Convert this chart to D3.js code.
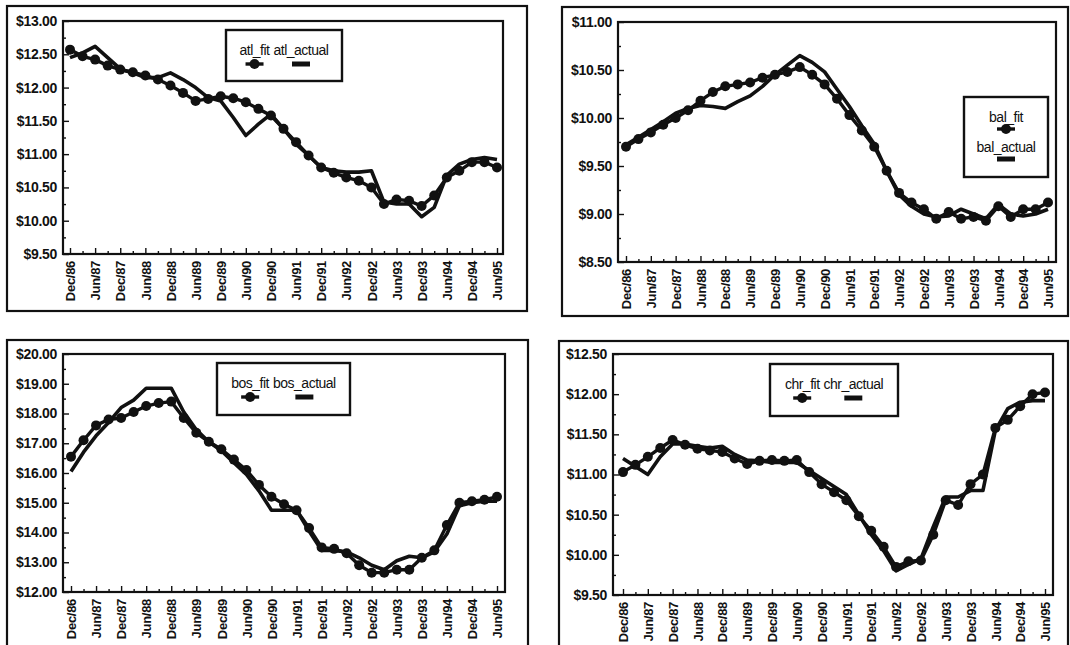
<!DOCTYPE html>
<html>
<head>
<meta charset="utf-8">
<script src="https://cdn.jsdelivr.net/npm/d3@7"></script>
<style>
  html, body { margin: 0; padding: 0; background: #fff; }
  svg { display: block; font-family: "Liberation Sans", Arial, sans-serif; }
</style>
</head>
<body>
<svg id="chart" width="1070" height="645"></svg>
<script>
// half-year tick labels, one every second quarter
const tickLabels = ["Dec/86","Jun/87","Dec/87","Jun/88","Dec/88","Jun/89","Dec/89","Jun/90","Dec/90",
                    "Jun/91","Dec/91","Jun/92","Dec/92","Jun/93","Dec/93","Jun/94","Dec/94","Jun/95"];

// quarterly values, Dec/86 .. Jun/95 (35 quarters)
const atlFit    = [12.57,12.47,12.42,12.33,12.27,12.23,12.18,12.12,12.03,11.92,11.80,11.83,11.87,11.84,11.78,11.68,11.58,
                   11.38,11.18,10.98,10.80,10.72,10.65,10.60,10.50,10.25,10.32,10.30,10.22,10.38,10.65,10.75,10.88,10.88,10.80];
const atlActual = [12.45,12.52,12.62,12.45,12.28,12.22,12.15,12.15,12.22,12.12,12.00,11.85,11.80,11.55,11.28,11.45,11.60,
                   11.38,11.15,10.98,10.80,10.75,10.73,10.73,10.75,10.28,10.25,10.25,10.06,10.20,10.68,10.85,10.92,10.95,10.92];

const balFit    = [9.70,9.78,9.85,9.93,10.00,10.08,10.18,10.27,10.33,10.35,10.37,10.42,10.45,10.48,10.53,10.45,10.35,
                   10.20,10.03,9.87,9.70,9.45,9.22,9.12,9.05,8.95,9.02,8.95,8.97,8.93,9.08,8.97,9.05,9.05,9.12];
const balActual = [9.72,9.80,9.88,9.96,10.05,10.10,10.13,10.12,10.10,10.17,10.23,10.33,10.45,10.55,10.65,10.58,10.48,
                   10.30,10.12,9.92,9.73,9.45,9.20,9.08,9.00,8.97,8.98,9.05,9.00,8.95,9.10,9.00,8.98,9.00,9.05];

const bosFit    = [16.55,17.10,17.60,17.80,17.85,18.05,18.25,18.35,18.40,17.85,17.35,17.05,16.80,16.45,16.10,15.60,15.20,
                   14.95,14.75,14.15,13.50,13.45,13.30,12.90,12.65,12.65,12.75,12.75,13.15,13.40,14.25,15.00,15.05,15.10,15.20];
const bosActual = [16.05,16.70,17.25,17.70,18.20,18.45,18.85,18.85,18.85,18.05,17.45,17.05,16.75,16.35,15.95,15.40,14.75,
                   14.75,14.75,14.05,13.40,13.40,13.35,13.15,12.90,12.75,13.05,13.20,13.15,13.35,13.95,14.90,15.00,15.05,15.05];

const chrFit    = [11.03,11.12,11.22,11.33,11.43,11.37,11.32,11.30,11.28,11.20,11.13,11.17,11.18,11.17,11.18,11.03,10.88,
                   10.78,10.68,10.48,10.30,10.10,9.85,9.92,9.93,10.25,10.68,10.62,10.88,11.00,11.58,11.68,11.85,12.00,12.02];
const chrActual = [11.20,11.10,11.00,11.22,11.38,11.38,11.35,11.33,11.35,11.25,11.18,11.17,11.15,11.15,11.15,11.05,10.95,
                   10.85,10.75,10.50,10.25,10.05,9.80,9.88,9.95,10.35,10.72,10.72,10.80,10.80,11.55,11.82,11.90,11.92,11.92];

const seriesNames = [["atl_fit","atl_actual"],["bal_fit","bal_actual"],["bos_fit","bos_actual"],["chr_fit","chr_actual"]];
const yDomains = [[9.5,13],[8.5,11],[12,20],[9.5,12.5]];
const yStepSize = [0.5,0.5,1,0.5];

// panel geometry
const layout = [
  {outer:[7,6,527,311],   plot:[63,21,503,254],   xr:[70,497],   legend:[226,30,342,81],   vertical:false},
  {outer:[562,7,1068,316],plot:[618,22,1056,262], xr:[626,1048], legend:[964,97,1048,177], vertical:true},
  {outer:[7,340,528,652], plot:[63,354,505,592],  xr:[71,497],   legend:[217,363,350,415], vertical:false},
  {outer:[559,341,1068,652],plot:[613,354,1053,595],xr:[623,1045],legend:[770,364,898,416],vertical:false}
];
const fits = [atlFit, balFit, bosFit, chrFit];
const actuals = [atlActual, balActual, bosActual, chrActual];

const svg = d3.select("#chart");
const ink = "#111";
const fmt = d3.format("$.2f");

layout.forEach((L, p) => {
  const [ox0, oy0, ox1, oy1] = L.outer;
  const [px0, py0, px1, py1] = L.plot;
  const g = svg.append("g");

  g.append("rect")
    .attr("x", ox0).attr("y", oy0).attr("width", ox1 - ox0).attr("height", oy1 - oy0)
    .attr("fill", "none").attr("stroke", ink).attr("stroke-width", 2.2);

  const n = fits[p].length;
  const x = d3.scaleLinear().domain([0, n - 1]).range(L.xr);
  const y = d3.scaleLinear().domain(yDomains[p]).range([py1, py0]);

  const step = yStepSize[p];
  const yMajor = d3.range(yDomains[p][0], yDomains[p][1] + step / 2, step);
  const yMinor = d3.range(yDomains[p][0] + step / 2, yDomains[p][1], step);

  // y axis
  const yAx = g.append("g").attr("transform", `translate(${px0},0)`)
    .call(d3.axisLeft(y).tickValues(yMajor).tickFormat(fmt).tickSizeInner(-6).tickSizeOuter(0).tickPadding(6));
  g.append("g").attr("transform", `translate(${px0},0)`)
    .call(d3.axisLeft(y).tickValues(yMinor).tickFormat("").tickSizeInner(-3).tickSizeOuter(0));

  // x axis
  const majorIdx = d3.range(0, n, 2);
  const minorIdx = d3.range(1, n, 2);
  const xAx = g.append("g").attr("transform", `translate(0,${py1})`)
    .call(d3.axisBottom(x).tickValues(majorIdx).tickFormat((d, i) => tickLabels[i]).tickSizeInner(-6).tickSizeOuter(0));
  g.append("g").attr("transform", `translate(0,${py1})`)
    .call(d3.axisBottom(x).tickValues(minorIdx).tickFormat("").tickSizeInner(-3).tickSizeOuter(0));

  g.selectAll(".domain").remove();
  g.selectAll(".tick line").attr("stroke", ink).attr("stroke-width", 1.4);

  yAx.selectAll("text")
    .attr("fill", ink).style("font-size", "14px").style("font-weight", "bold")
    .style("letter-spacing", "-0.3px");
  xAx.selectAll("text")
    .attr("fill", ink).style("font-size", "13px").style("font-weight", "bold")
    .style("letter-spacing", "-0.3px")
    .attr("transform", "rotate(-90)")
    .attr("x", -7).attr("y", 0).attr("dy", "0.36em")
    .style("text-anchor", "end");

  // plot frame
  g.append("rect")
    .attr("x", px0).attr("y", py0).attr("width", px1 - px0).attr("height", py1 - py0)
    .attr("fill", "none").attr("stroke", ink).attr("stroke-width", 2.2);

  const line = d3.line().x((d, i) => x(i)).y(d => y(d));

  g.append("path").datum(actuals[p])
    .attr("d", line).attr("fill", "none")
    .attr("stroke", ink).attr("stroke-width", 3.6).attr("stroke-linejoin", "round");

  g.append("path").datum(fits[p])
    .attr("d", line).attr("fill", "none")
    .attr("stroke", ink).attr("stroke-width", 3.4).attr("stroke-linejoin", "round");

  g.selectAll(".fitdot").data(fits[p]).enter().append("circle")
    .attr("class", "fitdot")
    .attr("cx", (d, i) => x(i)).attr("cy", d => y(d)).attr("r", 5)
    .attr("fill", ink);

  // legend
  const [lx0, ly0, lx1, ly1] = L.legend;
  const lg = g.append("g");
  lg.append("rect")
    .attr("x", lx0).attr("y", ly0).attr("width", lx1 - lx0).attr("height", ly1 - ly0)
    .attr("fill", "#fff").attr("stroke", ink).attr("stroke-width", 2.4);

  const names = seriesNames[p];
  const addText = (tx, ty, s) => lg.append("text")
    .attr("x", tx).attr("y", ty).attr("dy", "0.35em")
    .attr("text-anchor", "middle").attr("fill", ink)
    .style("font-size", "14px").style("letter-spacing", "-0.5px")
    .text(s);
  const fitMark = (cx, cy) => {
    lg.append("line").attr("x1", cx - 9).attr("x2", cx + 9).attr("y1", cy).attr("y2", cy)
      .attr("stroke", ink).attr("stroke-width", 3.4);
    lg.append("circle").attr("cx", cx).attr("cy", cy).attr("r", 5).attr("fill", ink);
  };
  const actMark = (cx, cy) => {
    lg.append("line").attr("x1", cx - 9).attr("x2", cx + 9).attr("y1", cy).attr("y2", cy)
      .attr("stroke", ink).attr("stroke-width", 5);
  };

  if (L.vertical) {
    const cx = (lx0 + lx1) / 2;
    addText(cx, ly0 + 20, names[0]);
    fitMark(cx, ly0 + 32);
    addText(cx, ly0 + 50, names[1]);
    actMark(cx, ly0 + 62);
  } else {
    const t0 = addText(0, ly0 + 20, names[0]);
    const t1 = addText(0, ly0 + 20, names[1]);
    const w0 = t0.node().getComputedTextLength();
    const w1 = t1.node().getComputedTextLength();
    const gap = 4;
    const start = (lx0 + lx1) / 2 - (w0 + gap + w1) / 2;
    const c0 = start + w0 / 2, c1 = start + w0 + gap + w1 / 2;
    t0.attr("x", c0);
    t1.attr("x", c1);
    fitMark(c0, ly0 + 34);
    actMark(c1, ly0 + 34);
  }
});
</script>
</body>
</html>
